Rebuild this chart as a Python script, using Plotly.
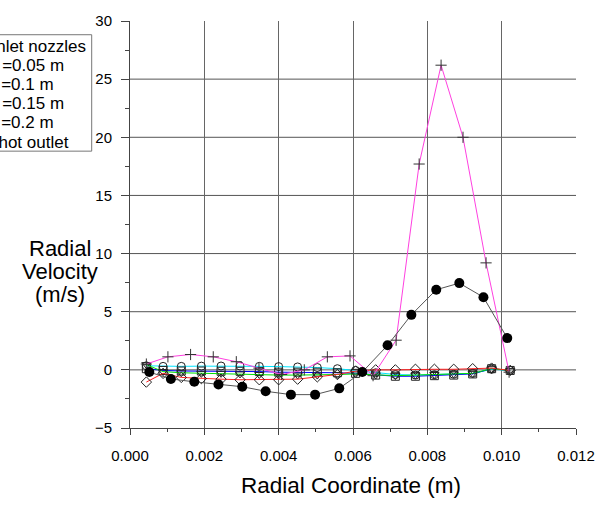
import plotly.graph_objects as go

# ---- data ----
x_pts = [0.00044, 0.00089, 0.00138, 0.00192, 0.00245, 0.00296, 0.00348, 0.00400,
         0.00451, 0.00504, 0.00558, 0.00607, 0.00661, 0.00714, 0.00768, 0.00819,
         0.00871, 0.00922, 0.00973, 0.01023]
cyan_y = [0.35, 0.30, 0.30, 0.32, 0.33, 0.33, 0.30, 0.28, 0.25, 0.20, 0.10, -0.05,
          -0.25, -0.40, -0.45, -0.42, -0.38, -0.30, 0.05, -0.05]
blue_y = [0.10, -0.05, -0.10, -0.10, -0.12, -0.12, -0.15, -0.20, -0.20, -0.20, -0.25,
          -0.30, -0.45, -0.55, -0.55, -0.50, -0.45, -0.35, 0.10, -0.05]
green_y = [0.45, -0.15, -0.25, -0.30, -0.30, -0.35, -0.40, -0.45, -0.45, -0.45, -0.40,
           -0.35, -0.45, -0.50, -0.45, -0.40, -0.35, -0.30, 0.10, -0.05]
red_y = [-1.05, -0.30, -0.65, -0.75, -0.80, -0.85, -0.85, -0.85, -0.80, -0.60, -0.40,
         -0.10, 0.00, 0.00, 0.05, 0.05, 0.05, 0.10, 0.15, -0.05]

mag_x = [0.00044, 0.00102, 0.00163, 0.00224, 0.00286, 0.00347, 0.00408, 0.00469,
         0.00531, 0.00592, 0.00654, 0.00716, 0.00778, 0.00837, 0.00896, 0.00958, 0.01020]
mag_y = [0.50, 1.12, 1.32, 1.12, 0.70, 0.15, -0.40, 0.00, 1.12, 1.20, -0.50, 2.55,
         17.7, 26.2, 20.0, 9.2, -0.2]

blk_x = [0.00052, 0.00110, 0.00173, 0.00238, 0.00302, 0.00365, 0.00433, 0.00498,
         0.00563, 0.00625, 0.00693, 0.00757, 0.00824, 0.00886, 0.00951, 0.01015]
blk_y = [-0.19, -0.78, -1.03, -1.25, -1.45, -1.84, -2.13, -2.13, -1.59, -0.19, 2.11,
         4.73, 6.89, 7.46, 6.25, 2.73]

x_ticks = [0.000, 0.002, 0.004, 0.006, 0.008, 0.010, 0.012]
y_ticks = [-5, 0, 5, 10, 15, 20, 25, 30]
y_grid = [0, 5, 10, 15, 20, 25]

legend_lines = ["No Inlet nozzles", "d =0.05 m", "d =0.1 m", "d =0.15 m", "d =0.2 m", "No hot outlet"]
y_title_lines = ["Radial", "Velocity", "(m/s)"]

# ---- layout geometry (pixels) ----
W, H = 609, 506
ML, MR, MT, MB = 130, 33, 13, 78
PW, PH = W - ML - MR, H - MT - MB


def px(xp):
    return (xp - ML) / PW


def py(yp):
    return (H - MB - yp) / PH


FONT = "Liberation Sans, Arial, sans-serif"

fig = go.Figure()

series = [
    (cyan_y, "#00e5ff", "circle-open"),
    (blue_y, "#0000ff", "square-open"),
    (green_y, "#00dd00", "triangle-down-open"),
    (red_y, "#ff2020", "diamond-open"),
]
for ys, col, sym in series:
    fig.add_trace(go.Scatter(
        x=x_pts, y=ys, mode="lines+markers",
        line=dict(color=col, width=1),
        marker=dict(symbol=sym, size=8, color="#222", line=dict(width=1, color="#222")),
        showlegend=False))

fig.add_trace(go.Scatter(
    x=mag_x, y=mag_y, mode="lines+markers",
    line=dict(color="#ff40e0", width=1),
    marker=dict(symbol="cross-thin", size=8, line=dict(width=1, color="#333")),
    showlegend=False))

fig.add_trace(go.Scatter(
    x=blk_x, y=blk_y, mode="lines+markers",
    line=dict(color="#555", width=1),
    marker=dict(symbol="circle", size=10, color="black"),
    showlegend=False))

for v in y_grid:
    fig.add_hline(y=v, line=dict(color="#555", width=1), layer="below")

fig.update_xaxes(
    range=[0, 0.012], tickvals=x_ticks, tickformat=".3f",
    showgrid=True, gridcolor="#666", gridwidth=1,
    showline=True, linecolor="#444", linewidth=1,
    ticks="outside", ticklen=6, tickcolor="#444", ticklabelstandoff=8,
    minor=dict(dtick=0.001, ticks="outside", ticklen=3, tickcolor="#444", showgrid=False),
    zeroline=False,
    tickfont=dict(family=FONT, size=15, color="black"))
fig.update_yaxes(
    range=[-5, 30], tickvals=y_ticks,
    showgrid=False,
    showline=True, linecolor="#444", linewidth=1,
    ticks="outside", ticklen=8, tickcolor="#444", ticklabelstandoff=6,
    minor=dict(dtick=2.5, ticks="outside", ticklen=4, tickcolor="#444", showgrid=False),
    zeroline=False,
    tickfont=dict(family=FONT, size=15, color="black"))

annotations = [
    dict(text="Radial Coordinate (m)", xref="paper", yref="paper",
         x=px(351), y=py(487), xanchor="center", yanchor="middle",
         showarrow=False, font=dict(family=FONT, size=22.5, color="black")),
]
for i, t in enumerate(y_title_lines):
    annotations.append(dict(
        text=t, xref="paper", yref="paper", x=px(60), y=py(245 + 23.5 * i),
        xanchor="center", yanchor="middle", showarrow=False,
        font=dict(family=FONT, size=22, color="black")))

# legend lines (box is cut by the left edge of the page, as in the reference)
leg_pos = [("right", 88), ("right", 65.7), ("right", 56), ("right", 65.7),
           ("right", 56), ("left", -30)]
for i, (t, (anc, xp)) in enumerate(zip(legend_lines, leg_pos)):
    annotations.append(dict(
        text=t, xref="paper", yref="paper", x=px(xp), y=py(39 + 19.5 * i),
        xanchor=anc, yanchor="middle", showarrow=False,
        font=dict(family=FONT, size=17, color="black")))

fig.add_shape(type="rect", xref="paper", yref="paper",
              x0=px(-5), x1=px(91.7), y0=py(145.7), y1=py(27),
              line=dict(color="#777", width=1), fillcolor="rgba(0,0,0,0)")

fig.update_layout(
    width=W, height=H,
    margin=dict(l=ML, r=MR, t=MT, b=MB),
    paper_bgcolor="white", plot_bgcolor="white",
    annotations=annotations,
    font=dict(family=FONT))

fig.write_html("out.html")
